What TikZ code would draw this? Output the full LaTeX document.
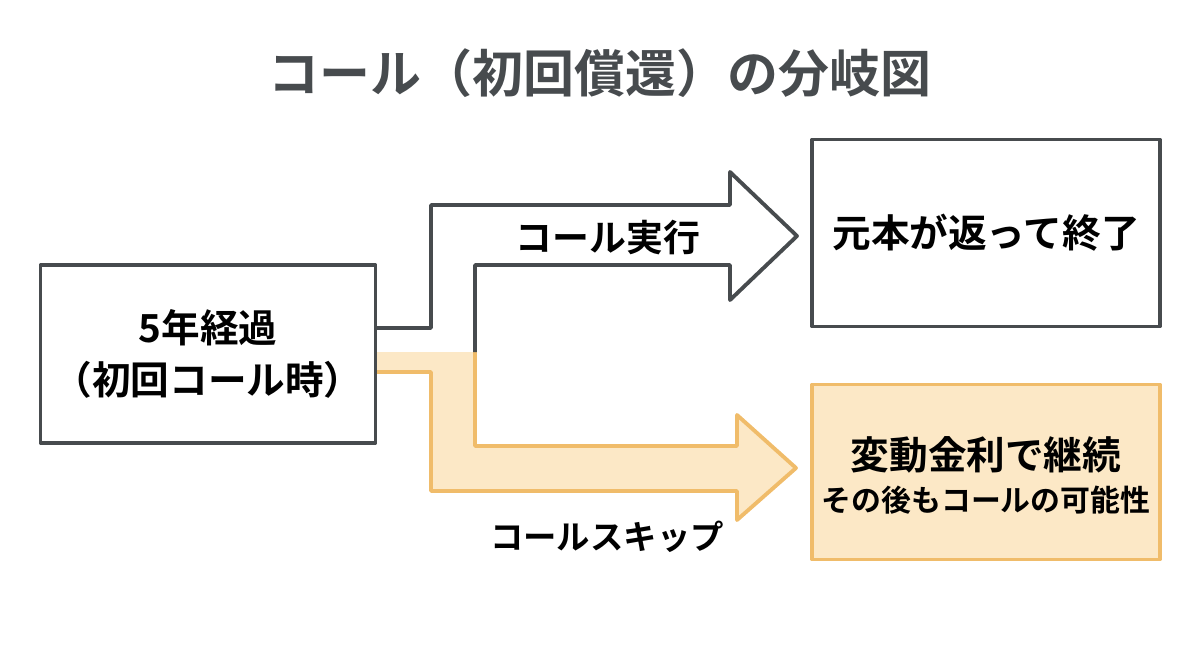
\documentclass[tikz,border=0pt]{standalone}
\usepackage{fontspec}
\setmainfont{Noto Sans CJK JP}[BoldFont={* Bold}]
\usetikzlibrary{positioning}
\definecolor{ink}{HTML}{474B4E}
\definecolor{peach}{HTML}{FCE8C6}
\definecolor{amber}{HTML}{F0BC6A}

\begin{document}
\begin{tikzpicture}[x=0.02cm,y=-0.02cm,line join=round,
  box/.style={draw=ink,line width=2.2pt,fill=white,inner sep=0pt},
  hot box/.style={box,draw=amber,fill=peach},
  txt/.style={font=\bfseries\fontsize{22}{30}\selectfont,align=center}]

  \useasboundingbox (0,0) rectangle (1200,655);
  \node[font=\bfseries\fontsize{29}{32}\selectfont,text=ink] (title) at (600,73) {コール（初回償還）の分岐図};

  % arrows
  \fill[peach] (377,352) -- (475,352) -- (475,446) -- (737,446) -- (737,415) -- (796,468)
    -- (737,520) -- (737,491) -- (431,491) -- (431,372) -- (377,372) -- cycle;
  \draw[amber,line width=2.2pt] (377,372) -- (431,372) -- (431,491) -- (737,491) -- (737,520)
    -- (796,468) -- (737,415) -- (737,446) -- (475,446) -- (475,352);
  \draw[ink,line width=2.2pt] (377,328) -- (431,328) -- (431,205) -- (730,205) -- (730,172)
    -- (797,236) -- (730,300) -- (730,265) -- (475,265) -- (475,352);

  \node[box,minimum width=6.7cm,minimum height=3.56cm] (start) at (208,354) {};
  \node[txt] at (start) {5年経過\\（初回コール時）};
  \node[box,minimum width=6.96cm,minimum height=3.74cm] (done) at (986,233) {};
  \node[txt] at (done) {元本が返って終了};
  \node[hot box,minimum width=6.96cm,minimum height=3.5cm] (cont) at (986,472) {};
  \node[txt] (cont t) at (986,455) {変動金利で継続};
  \node[font=\bfseries\fontsize{17}{20}\selectfont] (cont s) at (986,500) {その後もコールの可能性};

  \node[txt,font=\bfseries\fontsize{21}{24}\selectfont] (call) at (608,238) {コール実行};
  \node[txt,font=\bfseries\fontsize{19}{22}\selectfont] (skip) at (607,537) {コールスキップ};
\end{tikzpicture}
\end{document}
